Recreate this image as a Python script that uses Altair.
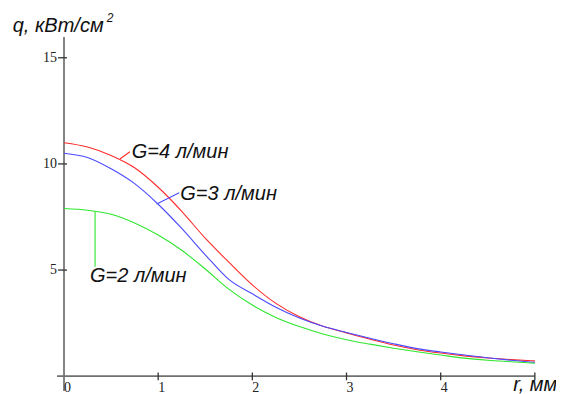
import altair as alt
import pandas as pd

# ---- data ----
r_mm = [0.0, 0.25, 0.5, 0.75, 1.0, 1.25, 1.5, 1.75, 2.0, 2.25, 2.5,
        2.75, 3.0, 3.25, 3.5, 3.75, 4.0, 4.25, 4.5, 4.75, 5.0]
q_g4 = [11.0, 10.8, 10.4, 9.82, 8.9, 7.77, 6.5, 5.37, 4.3, 3.43, 2.8,
        2.35, 2.04, 1.74, 1.47, 1.25, 1.09, 0.96, 0.86, 0.78, 0.72]
q_g3 = [10.5, 10.3, 9.77, 9.07, 8.1, 6.96, 5.72, 4.56, 3.88, 3.25, 2.74,
        2.35, 2.06, 1.79, 1.53, 1.3, 1.14, 1.0, 0.87, 0.75, 0.65]
q_g2 = [7.9, 7.82, 7.63, 7.22, 6.65, 5.93, 5.05, 4.1, 3.35, 2.77, 2.34,
        1.99, 1.72, 1.51, 1.32, 1.15, 1.0, 0.85, 0.75, 0.68, 0.61]

series_names = ["G=4 л/мин", "G=3 л/мин", "G=2 л/мин"]
series_colors = ["#ff2a2a", "#4a4aff", "#2ee62e"]

# annotation: curve point, leader end, text anchor (data units)
lead_r0 = [0.594, 0.984, 0.33]
lead_q0 = [10.23, 8.11, 7.75]
lead_r1 = [0.70, 1.224, 0.33]
lead_q1 = [10.57, 8.64, 5.16]
text_r = [0.72, 1.235, 0.276]
text_q = [10.29, 8.3, 4.42]

x_ticks = [0, 1, 2, 3, 4]
x_tick_marks = [1, 2, 3, 4, 5]
y_ticks = [5, 10, 15]

x_title = "r, мм"
y_title = "q, кВт/см"
y_title_sup = "2"

X_DOM = [-0.5947, 5.2246]
Y_DOM = [-0.838, 17.344]
W, H = 548, 386

xs = alt.Scale(domain=X_DOM, nice=False, zero=False)
ys = alt.Scale(domain=Y_DOM, nice=False, zero=False)

rows = []
for name, qs in zip(series_names, [q_g4, q_g3, q_g2]):
    for r, q in zip(r_mm, qs):
        rows.append({"r": r, "q": q, "G": name})
curves = pd.DataFrame(rows)

color = alt.Color("G:N", scale=alt.Scale(domain=series_names, range=series_colors), legend=None)

lines = alt.Chart(curves).mark_line(strokeWidth=1.1, interpolate="monotone").encode(
    x=alt.X("r:Q", scale=xs, axis=None),
    y=alt.Y("q:Q", scale=ys, axis=None),
    color=color,
    detail="G:N",
)

ann = pd.DataFrame({"G": series_names, "r0": lead_r0, "q0": lead_q0,
                    "r1": lead_r1, "q1": lead_q1, "tr": text_r, "tq": text_q})
leaders = alt.Chart(ann).mark_rule(strokeWidth=1.1).encode(
    x=alt.X("r0:Q", scale=xs, axis=None), y=alt.Y("q0:Q", scale=ys, axis=None),
    x2="r1:Q", y2="q1:Q", color=color)
labels = alt.Chart(ann).mark_text(
    align="left", baseline="alphabetic", font="Liberation Sans",
    fontStyle="italic", fontSize=20, color="#111111").encode(
    x=alt.X("tr:Q", scale=xs, axis=None), y=alt.Y("tq:Q", scale=ys, axis=None), text="G:N")

# axes
axis_df = pd.DataFrame({"x0": [-0.074, 0.0], "x1": [5.0, 0.0],
                        "y0": [0.0, -0.70], "y1": [0.0, 15.98]})
axis_lines = alt.Chart(axis_df).mark_rule(color="#707070", strokeWidth=1.7).encode(
    x=alt.X("x0:Q", scale=xs, axis=None), x2="x1:Q",
    y=alt.Y("y0:Q", scale=ys, axis=None), y2="y1:Q")

xt = pd.DataFrame({"v": x_tick_marks})
xt["lo"] = -0.19
xt["hi"] = 0.17
xtick_marks = alt.Chart(xt).mark_rule(color="#333333", strokeWidth=1.3).encode(
    x=alt.X("v:Q", scale=xs, axis=None),
    y=alt.Y("lo:Q", scale=ys, axis=None), y2="hi:Q")
yt = pd.DataFrame({"v": y_ticks})
yt["lo"] = -0.064
yt["hi"] = 0.032
ytick_marks = alt.Chart(yt).mark_rule(color="#333333", strokeWidth=1.3).encode(
    y=alt.Y("v:Q", scale=ys, axis=None),
    x=alt.X("lo:Q", scale=xs, axis=None), x2="hi:Q")

xl = pd.DataFrame({"v": x_ticks, "t": [str(v) for v in x_ticks]})
xl["z"] = 0.0
xl["off"] = [3, -1, -1, -1, -1]
xtick_labels = alt.Chart(xl).mark_text(
    align="left", baseline="top", dy=5, font="Liberation Serif",
    fontSize=14, color="#222222").encode(
    x=alt.X("v:Q", scale=xs, axis=None), y=alt.Y("z:Q", scale=ys, axis=None),
    xOffset=alt.XOffset("off:Q", scale=None), text="t:N")
yl = pd.DataFrame({"v": y_ticks, "t": [str(v) for v in y_ticks]})
yl["z"] = 0.0
ytick_labels = alt.Chart(yl).mark_text(
    align="right", baseline="middle", dx=-7, font="Liberation Serif",
    fontSize=14, color="#222222").encode(
    y=alt.Y("v:Q", scale=ys, axis=None), x=alt.X("z:Q", scale=xs, axis=None), text="t:N")

titles = pd.DataFrame({"t": [x_title, y_title], "x": [4.77, -0.545], "y": [-0.697, 16.23]})
title_marks = alt.Chart(titles).mark_text(
    align="left", baseline="alphabetic", font="Liberation Sans",
    fontStyle="italic", fontSize=20, color="#111111").encode(
    x=alt.X("x:Q", scale=xs, axis=None), y=alt.Y("y:Q", scale=ys, axis=None), text="t:N")
sup = pd.DataFrame({"t": [y_title_sup], "x": [0.455], "y": [16.68]})
sup_mark = alt.Chart(sup).mark_text(
    align="left", baseline="alphabetic", font="Liberation Sans",
    fontStyle="italic", fontSize=12, color="#111111").encode(
    x=alt.X("x:Q", scale=xs, axis=None), y=alt.Y("y:Q", scale=ys, axis=None), text="t:N")

chart = alt.layer(
    axis_lines, xtick_marks, ytick_marks, xtick_labels, ytick_labels,
    lines, leaders, labels, title_marks, sup_mark
).properties(
    width=W, height=H, padding=0, autosize=alt.AutoSizeParams(type="none")
).configure_view(stroke=None)

chart.save("out.html", embed_options={"renderer": "svg", "actions": False})
